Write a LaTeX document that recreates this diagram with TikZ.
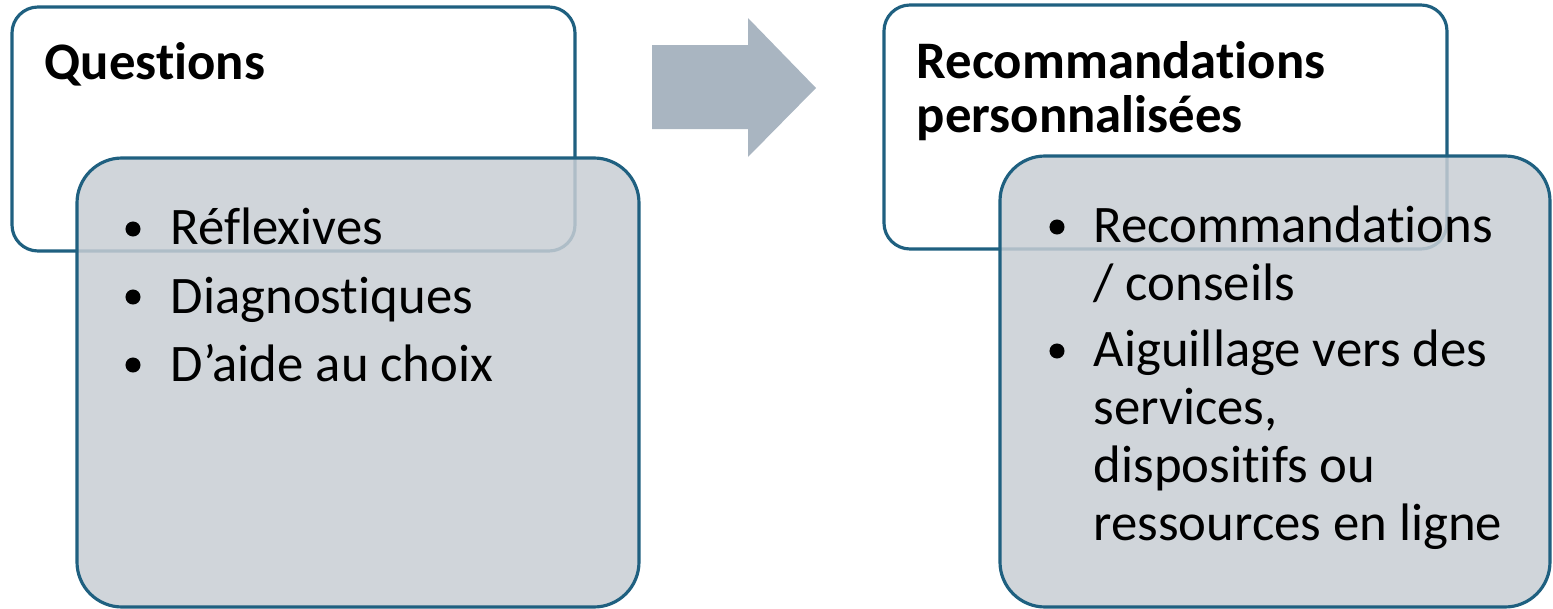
\documentclass[tikz,border=0pt]{standalone}
\usepackage{fontspec}
\setmainfont{Carlito}[Ligatures=NoCommon]
\definecolor{boxline}{RGB}{31,96,128}
\definecolor{boxgray}{RGB}{200,206,212}
\definecolor{arrowgray}{RGB}{169,181,193}
\begin{document}
\begin{tikzpicture}[x=0.01cm, y=-0.01cm]
	\tikzset{
		titlebox/.style = {draw=boxline, line width=0.9pt, fill=white, rounded corners=0.26cm},
		listbox/.style = {draw=boxline, line width=0.9pt, fill=boxgray, fill opacity=0.85, rounded corners=0.45cm},
		title/.style = {anchor=base west, inner sep=0pt, font=\fontsize{15}{15.6}\selectfont\bfseries, align=left},
		item/.style = {anchor=base west, inner sep=0pt, font=\fontsize{15}{16.4}\selectfont, align=left},
		dot/.style = {circle, fill=black, inner sep=0pt, minimum size=0.15cm}
	}
	\useasboundingbox (0,0) rectangle (1553,609);
	% left pair
	\draw[titlebox] (12,7) rectangle (575,251);
	\node[title] (questions) at (44,80) {Questions};
	\draw[listbox] (77,158) rectangle (639,607);
	\node[dot] (b1) at (133,229) {};
	\node[item] (reflexives) at (170,245) {Réflexives};
	\node[dot] (b2) at (133,297) {};
	\node[item] (diagnostiques) at (170,313) {Diagnostiques};
	\node[dot] (b3) at (133,365) {};
	\node[item] (aide) at (170,381) {D’aide au choix};
	% arrow
	\fill[arrowgray] (652,45) -- (748,45) -- (748,18) -- (816,88) -- (748,157) -- (748,129) -- (652,129) -- cycle;
	% right pair (multi-line nodes sit on their last baseline)
	\draw[titlebox] (884,5) rectangle (1447,249);
	\node[title] (reco) at (916,133) {Recommandations\\personnalisées};
	\draw[listbox] (1000,156) rectangle (1550,607);
	\node[dot] (b4) at (1057,227) {};
	\node[item] (conseils) at (1093,300) {Recommandations\\/ conseils};
	\node[dot] (b5) at (1057,351) {};
	\node[item] (aiguillage) at (1093,540) {Aiguillage vers des\\services,\\dispositifs ou\\ressources en ligne};
\end{tikzpicture}
\end{document}
